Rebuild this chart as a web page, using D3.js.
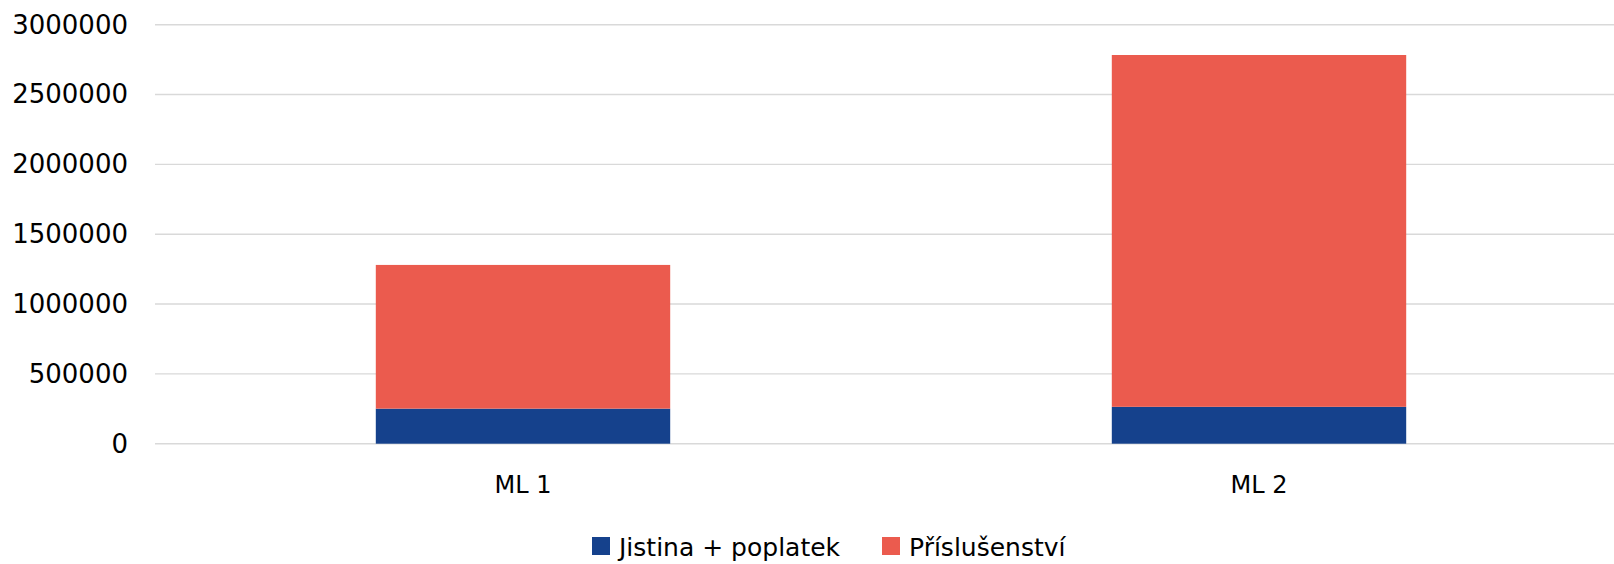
<!DOCTYPE html>
<html>
<head>
<meta charset="utf-8">
<script src="https://cdn.jsdelivr.net/npm/d3@7"></script>
<style>
  body { margin: 0; background: #fff; }
  svg { display: block; font-family: "DejaVu Sans", sans-serif; }
  .grid line { stroke: #d9d9d9; stroke-width: 1.4; }
</style>
</head>
<body>
<svg id="chart" width="1614" height="564"></svg>
<script>
// data
var categories = ["ML 1", "ML 2"];
var seriesNames = ["Jistina + poplatek", "Příslušenství"];
var jistina = [251000, 264000];
var prislusenstvi = [1029000, 2519000];
var yTicks = [0, 500000, 1000000, 1500000, 2000000, 2500000, 3000000];
var colors = ["#15418c", "#eb5b4e"];

var svg = d3.select("#chart");
var W = 1614, H = 564;
// note: "top" is taken by window.top, so plot edges get their own names
var plotLeft = 155, plotRight = 1627, plotTop = 24.7, plotBottom = 443.7;

var rows = categories.map(function(c, i) {
	return { cat: c, s0: jistina[i], s1: prislusenstvi[i] };
});
var stacked = d3.stack().keys(["s0", "s1"])(rows);

var x = d3.scaleBand().domain(categories).range([plotLeft, plotRight])
	.paddingInner(0.6).paddingOuter(0.3);
var y = d3.scaleLinear().domain([0, 3000000]).range([plotBottom, plotTop]);

// gridlines
svg.append("g").attr("class", "grid")
	.selectAll("line").data(yTicks).enter().append("line")
	.attr("x1", plotLeft).attr("x2", W)
	.attr("y1", function(d) { return y(d); })
	.attr("y2", function(d) { return y(d); });

// y axis labels
var yAxis = d3.axisLeft(y).tickValues(yTicks).tickSize(0).tickPadding(0)
	.tickFormat(d3.format("d"));
var ya = svg.append("g").attr("transform", "translate(128,0)").call(yAxis);
ya.select(".domain").remove();
ya.selectAll("text").attr("font-size", 26).attr("fill", "#000")
	.attr("font-family", "DejaVu Sans, sans-serif");

// bars
svg.append("g").selectAll("g").data(stacked).enter().append("g")
	.attr("fill", function(d, i) { return colors[i]; })
	.selectAll("rect").data(function(d) { return d; }).enter().append("rect")
	.attr("x", function(d) { return x(d.data.cat); })
	.attr("width", x.bandwidth())
	.attr("y", function(d) { return y(d[1]); })
	.attr("height", function(d) { return y(d[0]) - y(d[1]); });

// category labels
var xAxis = d3.axisBottom(x).tickSize(0).tickPadding(0);
var xa = svg.append("g").attr("transform", "translate(0," + (plotBottom + 32) + ")").call(xAxis);
xa.select(".domain").remove();
xa.selectAll("text").attr("font-size", 24).attr("fill", "#000")
	.attr("font-family", "DejaVu Sans, sans-serif");

// legend
var legendX = [592, 882];
var legend = svg.append("g").selectAll("g").data(seriesNames).enter().append("g")
	.attr("transform", function(d, i) { return "translate(" + legendX[i] + ",537)"; });
legend.append("rect").attr("width", 18).attr("height", 18)
	.attr("fill", function(d, i) { return colors[i]; });
legend.append("text").attr("x", 27).attr("y", 18.5)
	.attr("font-size", 25).attr("fill", "#000")
	.text(function(d) { return d; });
</script>
</body>
</html>
